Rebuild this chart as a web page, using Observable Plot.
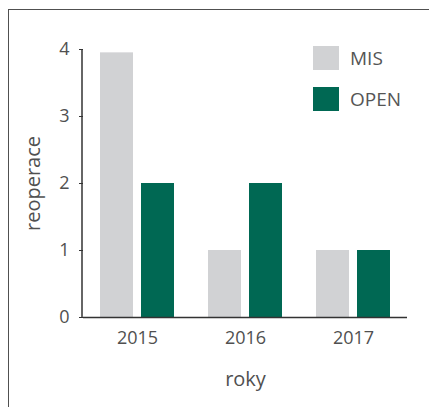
<!DOCTYPE html>
<html><head><meta charset="utf-8">
<script src="https://cdn.jsdelivr.net/npm/d3@7"></script>
<script src="https://cdn.jsdelivr.net/npm/@observablehq/plot@0.6"></script>
<style>
html,body{margin:0;padding:0;background:#fff;overflow:hidden;width:429px;height:407px}
#wrap{position:relative;width:429px;height:407px;overflow:hidden}
#frame{position:absolute;left:8px;top:9px;width:600px;height:600px;border:1.5px solid #505050;box-sizing:border-box}
#chart{position:absolute;left:0;top:0}
#legend{position:absolute;left:0;top:0;width:429px;height:407px;font-family:'Open Sans',sans-serif;font-size:19px;color:#555}
</style></head><body>
<div id="wrap"><div id="frame"></div><div id="chart"></div><div id="legend"></div></div>
<script>
const years = ["2015", "2016", "2017"];
const series = ["MIS", "OPEN"];
const misValues = [3.95, 1, 1];
const openValues = [2, 2, 1];
const seriesColors = ["#d1d2d4", "#006853"];
const yTicks = [0, 1, 2, 3, 4];
const xLabel = "roky";
const yLabel = "reoperace";

const data = years.flatMap((yr, i) => [
  {year: yr, series: series[0], value: misValues[i]},
  {year: yr, series: series[1], value: openValues[i]}
]);

const chart = Plot.plot({
  width: 429, height: 407,
  marginLeft: 82, marginRight: 22, marginTop: 49, marginBottom: 90,
  style: {fontFamily: "'Open Sans', sans-serif", fontSize: "18px", color: "#505050", background: "transparent"},
  fx: {domain: years, padding: 0},
  x: {domain: series, paddingInner: 0.19, paddingOuter: 0.385, axis: null},
  y: {domain: [0, 4]},
  color: {domain: series, range: seriesColors},
  marks: [
    Plot.barY(data, {fx: "year", x: "series", y: "value", fill: "series"}),
    Plot.ruleY([0], {stroke: "#333", strokeWidth: 1.5}),
    Plot.axisY({ticks: yTicks, tickFormat: d3.format("d"), tickSize: 4, tickPadding: 10, fontSize: 18, stroke: "#333", label: null}),
    Plot.axisY({ticks: [], tickSize: 0, fontSize: 20,
      label: yLabel, labelAnchor: "center", labelOffset: 58, labelArrow: "none"}),
    Plot.axisFx({anchor: "bottom", tickSize: 0, tickPadding: 14, fontSize: 18, label: null}),
    Plot.axisFx({anchor: "bottom", ticks: [], tickSize: 0, fontSize: 20,
      label: xLabel, labelAnchor: "center", labelOffset: 68, labelArrow: "none"})
  ]
});
document.getElementById("chart").appendChild(chart);

// y-axis domain line drawn with the chart's own y scale
const yScale = chart.scale("y");
d3.select(chart).append("line")
  .attr("x1", 82).attr("x2", 82)
  .attr("y1", yScale.apply(yTicks[yTicks.length - 1]))
  .attr("y2", yScale.apply(yTicks[0]))
  .attr("stroke", "#333").attr("stroke-width", 1.5);

const color = chart.scale("color");
const legend = d3.select("#legend");
series.forEach((s, i) => {
  const row = legend.append("div")
    .style("position", "absolute").style("left", "313px").style("top", (46 + i * 41) + "px")
    .style("display", "flex").style("align-items", "center").style("height", "24px");
  row.append("div").style("width", "26px").style("height", "24px").style("background", color.apply(s));
  row.append("span").style("margin-left", "11px").style("line-height", "24px").text(s);
});
</script>
</body></html>
